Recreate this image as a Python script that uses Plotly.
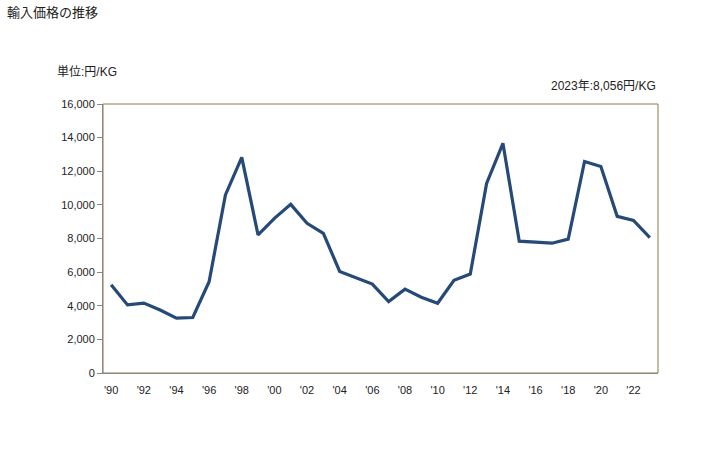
import plotly.graph_objects as go

years = list(range(1990, 2024))
values = [5250, 4050, 4160, 3750, 3260, 3300, 5430, 10590, 12830, 8210,
          9200, 10030, 8900, 8310, 6040, 5640, 5290, 4250, 4990, 4510,
          4150, 5510, 5890, 11280, 13660, 7840, 7780, 7720, 7960, 12580,
          12280, 9320, 9080, 8056]
tick_years = list(range(1990, 2024, 2))
tick_labels = ["'" + str(y)[2:] for y in tick_years]
y_ticks = list(range(0, 16001, 2000))
y_labels = [f"{v:,}" for v in y_ticks]

fig = go.Figure()
fig.add_trace(go.Scatter(x=years, y=values, mode="lines",
                         line=dict(color="#264a78", width=3.2),
                         hoverinfo="x+y"))

font = "Liberation Sans, Noto Sans CJK JP, sans-serif"
fig.update_layout(
    width=728, height=450,
    margin=dict(l=103, r=70, t=104, b=77),
    paper_bgcolor="white", plot_bgcolor="white",
    showlegend=False,
    font=dict(family=font, size=11, color="#222"),
    xaxis=dict(range=[1989.5, 2023.5], tickvals=tick_years, ticktext=tick_labels,
               showgrid=False, zeroline=False, showline=True, linecolor="#888888",
               linewidth=1, ticks="", ticklabelstandoff=7,
               tickfont=dict(size=11, color="#222"), mirror=False),
    yaxis=dict(range=[0, 16000], tickvals=y_ticks, ticktext=y_labels,
               showgrid=False, zeroline=False, showline=True, linecolor="#888888",
               linewidth=1, ticks="outside", ticklen=5, tickcolor="#888888",
               tickfont=dict(size=11, color="#222")),
    shapes=[dict(type="rect", xref="x domain", yref="y domain", x0=0, x1=1, y0=0, y1=1,
                 line=dict(color="#8c7d3c", width=1), layer="below")],
    annotations=[
        dict(text="輸入価格の推移", xref="paper", yref="paper", x=-98/555, y=1+(104-12)/269,
             xanchor="left", yanchor="middle", showarrow=False,
             font=dict(size=13, color="#222", family=font)),
        dict(text="単位:円/KG", xref="paper", yref="paper", x=(55-103)/555, y=1+(104-72)/269,
             xanchor="left", yanchor="middle", showarrow=False,
             font=dict(size=12, color="#222", family=font)),
        dict(text="2023年:8,056円/KG", xref="paper", yref="paper", x=1, y=1+(104-86)/269,
             xanchor="right", yanchor="middle", showarrow=False,
             font=dict(size=12, color="#222", family=font)),
    ],
)
fig.write_html("out.html", config={"displayModeBar": False},
               post_script="document.body.style.margin='0';")
